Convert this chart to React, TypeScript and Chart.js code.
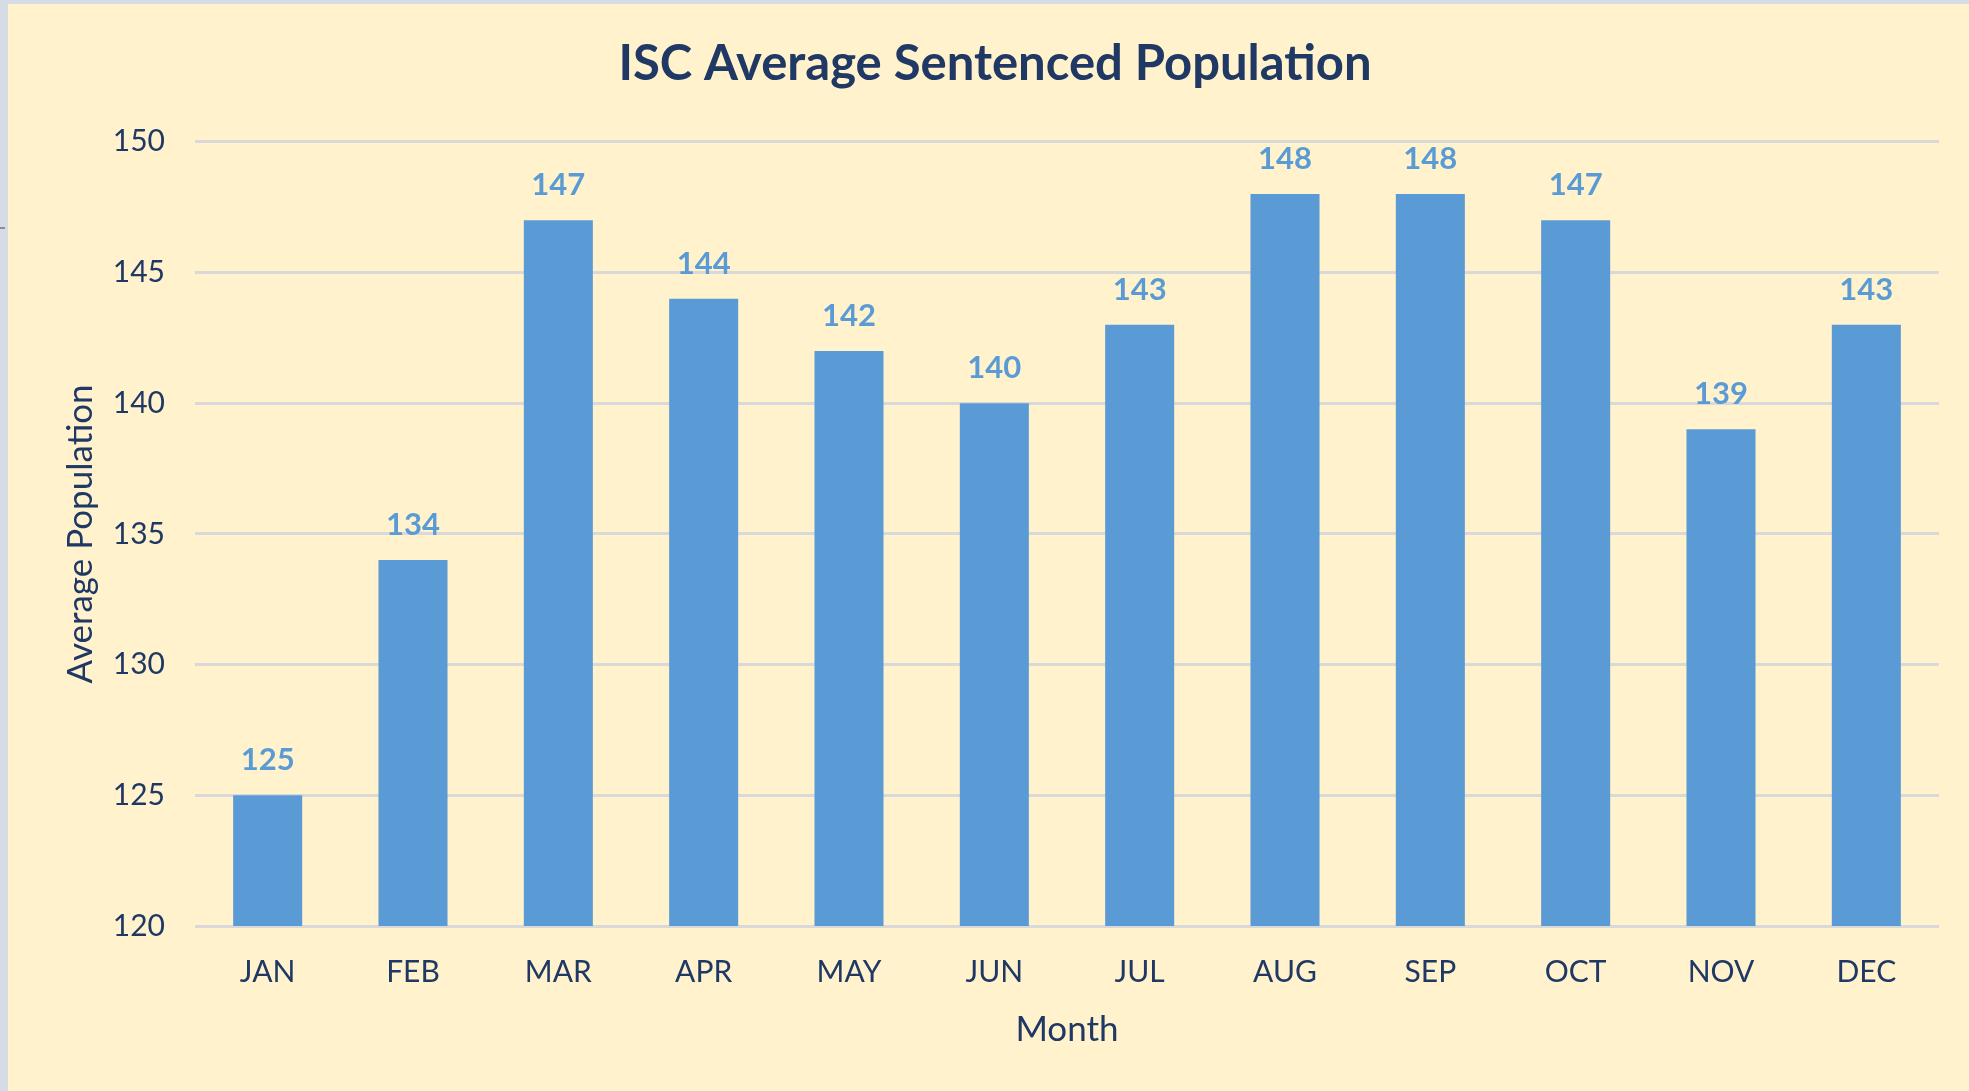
import React, { useEffect, useRef } from "react";
import { Chart, registerables } from "chart.js";

Chart.register(...registerables);

const months = ["JAN", "FEB", "MAR", "APR", "MAY", "JUN", "JUL", "AUG", "SEP", "OCT", "NOV", "DEC"];
const population = [125, 134, 147, 144, 142, 140, 143, 148, 148, 147, 139, 143];
const yTicks = [120, 125, 130, 135, 140, 145, 150];

const chartTitle = "ISC Average Sentenced Population";
const xTitle = "Month";
const yTitle = "Average Population";

const NAVY = "#1F3864";
const BAR = "#5B9BD5";
const GRID = "#D9D9D9";
const FONT = "Lato, 'Open Sans', sans-serif";

const valueLabels = {
  id: "valueLabels",
  afterDatasetsDraw(chart: any) {
    const ctx = chart.ctx;
    const meta = chart.getDatasetMeta(0);
    ctx.save();
    ctx.font = `bold 31px ${FONT}`;
    ctx.fillStyle = BAR;
    ctx.textAlign = "center";
    ctx.textBaseline = "alphabetic";
    meta.data.forEach((bar: any, i: number) => {
      const v = chart.data.datasets[0].data[i];
      ctx.fillText(String(v), bar.x, bar.y - 25);
    });
    ctx.restore();
  },
};

export default function App() {
  const ref = useRef<HTMLCanvasElement | null>(null);

  useEffect(() => {
    if (!ref.current) return;
    const chart = new Chart(ref.current, {
      type: "bar",
      data: {
        labels: months,
        datasets: [
          {
            data: population,
            backgroundColor: BAR,
            borderWidth: 0,
            barPercentage: 0.475,
            categoryPercentage: 1,
          },
        ],
      },
      plugins: [valueLabels],
      options: {
        animation: false,
        responsive: false,
        maintainAspectRatio: false,
        layout: { padding: { left: 43, right: 30, top: 0, bottom: 0 } },
        plugins: {
          legend: { display: false },
          tooltip: { enabled: false },
          title: {
            display: true,
            text: chartTitle,
            color: NAVY,
            font: { family: FONT, size: 49, weight: "bold", lineHeight: 1.2 },
            padding: { top: 31, bottom: 48 },
          },
        },
        scales: {
          x: {
            offset: true,
            grid: { display: false, drawTicks: false },
            border: { display: false },
            ticks: {
              color: NAVY,
              font: { family: FONT, size: 30 },
              padding: 28,
              maxRotation: 0,
              autoSkip: false,
            },
            title: {
              display: true,
              text: xTitle,
              color: NAVY,
              font: { family: FONT, size: 35, lineHeight: 1.2 },
              padding: { top: 0, bottom: 40 },
            },
            afterFit: (scale: any) => {
              scale.height = 165;
            },
          },
          y: {
            min: 120,
            max: 150,
            afterBuildTicks: (scale: any) => {
              scale.ticks = yTicks.map((v) => ({ value: v }));
            },
            grid: { color: GRID, lineWidth: 3, drawTicks: false },
            border: { display: false },
            ticks: {
              color: NAVY,
              font: { family: FONT, size: 30 },
              padding: 30,
            },
            title: {
              display: true,
              text: yTitle,
              color: NAVY,
              font: { family: FONT, size: 35, lineHeight: 1.2 },
              padding: { top: 9, bottom: 0 },
            },
            afterFit: (scale: any) => {
              scale.width = 144;
            },
          },
        },
      },
    });
    return () => chart.destroy();
  }, []);

  return (
    <div
      style={{
        position: "absolute",
        left: 0,
        top: 0,
        width: 1969,
        height: 1091,
        background: "#D6DCE5",
        overflow: "hidden",
      }}
    >
      <div style={{ position: "absolute", left: 0, top: 227, width: 5, height: 2, background: "#8C8C8C" }} />
      <div
        style={{
          position: "absolute",
          left: 8,
          top: 4,
          width: 1961,
          height: 1087,
          background: "#FFF2CC",
        }}
      >
        <canvas ref={ref} width={1961} height={1087} style={{ display: "block", width: 1961, height: 1087 }} />
      </div>
    </div>
  );
}
